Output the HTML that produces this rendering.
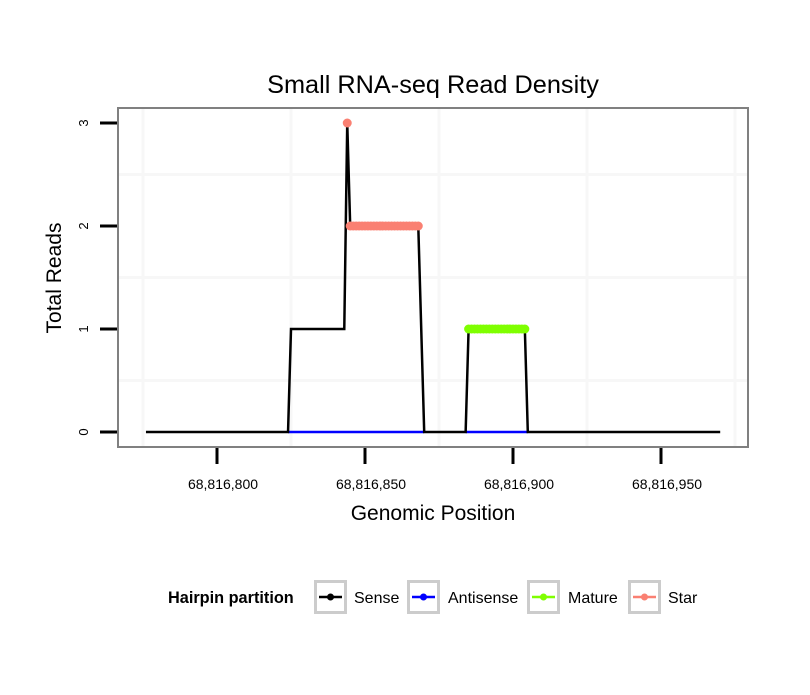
<!DOCTYPE html>
<html><head><meta charset="utf-8"><style>
body{margin:0;background:#fff;font-family:"Liberation Sans",sans-serif}
svg text{font-family:"Liberation Sans",sans-serif}
</style></head><body>
<svg id="chart" width="810" height="690" viewBox="0 0 810 690" xmlns="http://www.w3.org/2000/svg">
<rect width="810" height="690" fill="#fff"/>
<text x="433" y="93" font-size="25.3" text-anchor="middle">Small RNA-seq Read Density</text>
<g id="grid"></g>
<g id="series"></g>
<rect x="118" y="108" width="630" height="339" fill="none" stroke="#808080" stroke-width="2"/>
<g id="axes"></g>
<text x="433" y="520" font-size="21" text-anchor="middle">Genomic Position</text>
<text transform="translate(61,278) rotate(-90)" font-size="21" text-anchor="middle">Total Reads</text>
<g id="legend"></g>
</svg>
<script>
const xTicks=[68816800,68816850,68816900,68816950];
const xTickLabels=["68,816,800","68,816,850","68,816,900","68,816,950"];
const yTicks=[0,1,2,3];
const sensePos=[68816776,68816824,68816825,68816843,68816844,68816845,68816868,68816870,68816884,68816885,68816904,68816905,68816970];
const senseVals=[0,0,1,1,3,2,2,0,0,1,1,0,0];
const antiPos=[68816824,68816870,68816884,68816905];
const antiVals=[0,0,0,0];
const maturePos=[];for(let p=68816885;p<=68816904;p++)maturePos.push(p);
const matureVals=maturePos.map(()=>1);
const starPos=[68816844];for(let p=68816845;p<=68816868;p++)starPos.push(p);
const starVals=[3].concat(starPos.slice(1).map(()=>2));
const NS="http://www.w3.org/2000/svg";
const X=v=>217+(v-68816800)*2.96;
const Y=v=>432-v*103;
function mk(t,a,p){const e=document.createElementNS(NS,t);for(const k in a)e.setAttribute(k,a[k]);p.appendChild(e);return e;}
const grid=document.getElementById('grid'),axes=document.getElementById('axes'),ser=document.getElementById('series'),leg=document.getElementById('legend');
[0.5,1.5,2.5].forEach(v=>{const l=mk('line',{x1:119,x2:747,y1:Y(v),y2:Y(v),stroke:'#f7f7f7','stroke-width':3},grid);

});
[-25,25,75,125,175].forEach(d=>{const l=mk('line',{x1:X(68816800+d),x2:X(68816800+d),y1:109,y2:446,stroke:'#f7f7f7','stroke-width':3},grid);

});
xTicks.forEach((t,i)=>{const l=mk('line',{x1:X(t),x2:X(t),y1:448,y2:464,stroke:'#000','stroke-width':3},axes);


const tx=mk('text',{x:X(t)+6,y:489,'font-size':14,'text-anchor':'middle'},axes);tx.textContent=xTickLabels[i];

});
yTicks.forEach(t=>{const l=mk('line',{x1:100,x2:117,y1:Y(t),y2:Y(t),stroke:'#000','stroke-width':3},axes);


const tx=mk('text',{transform:`translate(88,${Y(t)}) rotate(-90)`,'font-size':13,'text-anchor':'middle'},axes);tx.textContent=t;

});
function line(pos,vals,col,name){const p=mk('polyline',{points:pos.map((x,i)=>X(x)+','+Y(vals[i])).join(' '),fill:'none',stroke:col,'stroke-width':2.5},ser);

}
function dots(pos,vals,col,name){pos.forEach((x,i)=>{const c=mk('circle',{cx:X(x),cy:Y(vals[i]),r:4.5,fill:col},ser);

});}
line(antiPos.slice(0,2),antiVals.slice(0,2),'#0000ff','antisense-line');
line(antiPos.slice(2),antiVals.slice(2),'#0000ff','antisense-line');
line(sensePos,senseVals,'#000','sense-line');
line(maturePos,matureVals,'#7fff00','mature-line');dots(maturePos,matureVals,'#7fff00','mature-point');
line(starPos.slice(1),starVals.slice(1),'#fa8072','star-line');dots(starPos,starVals,'#fa8072','star-point');
const lt=mk('text',{x:168,y:603,'font-size':16.3,'font-weight':'bold'},leg);lt.textContent='Hairpin partition';


[['Sense','#000',314,354],['Antisense','#0000ff',407,448],['Mature','#7fff00',527,568],['Star','#fa8072',628,668]].forEach(([n,c,bx,tx])=>{
const g=mk('g',{},leg);


mk('rect',{x:bx+1.5,y:581.5,width:30,height:31,fill:'#fff',stroke:'#ccc','stroke-width':3},g);
mk('line',{x1:bx+5,x2:bx+28,y1:597,y2:597,stroke:c,'stroke-width':2.5},g);
mk('circle',{cx:bx+16.5,cy:597,r:3.5,fill:c},g);
const t=mk('text',{x:tx,y:603,'font-size':16},g);t.textContent=n;});
</script>
</body></html>
